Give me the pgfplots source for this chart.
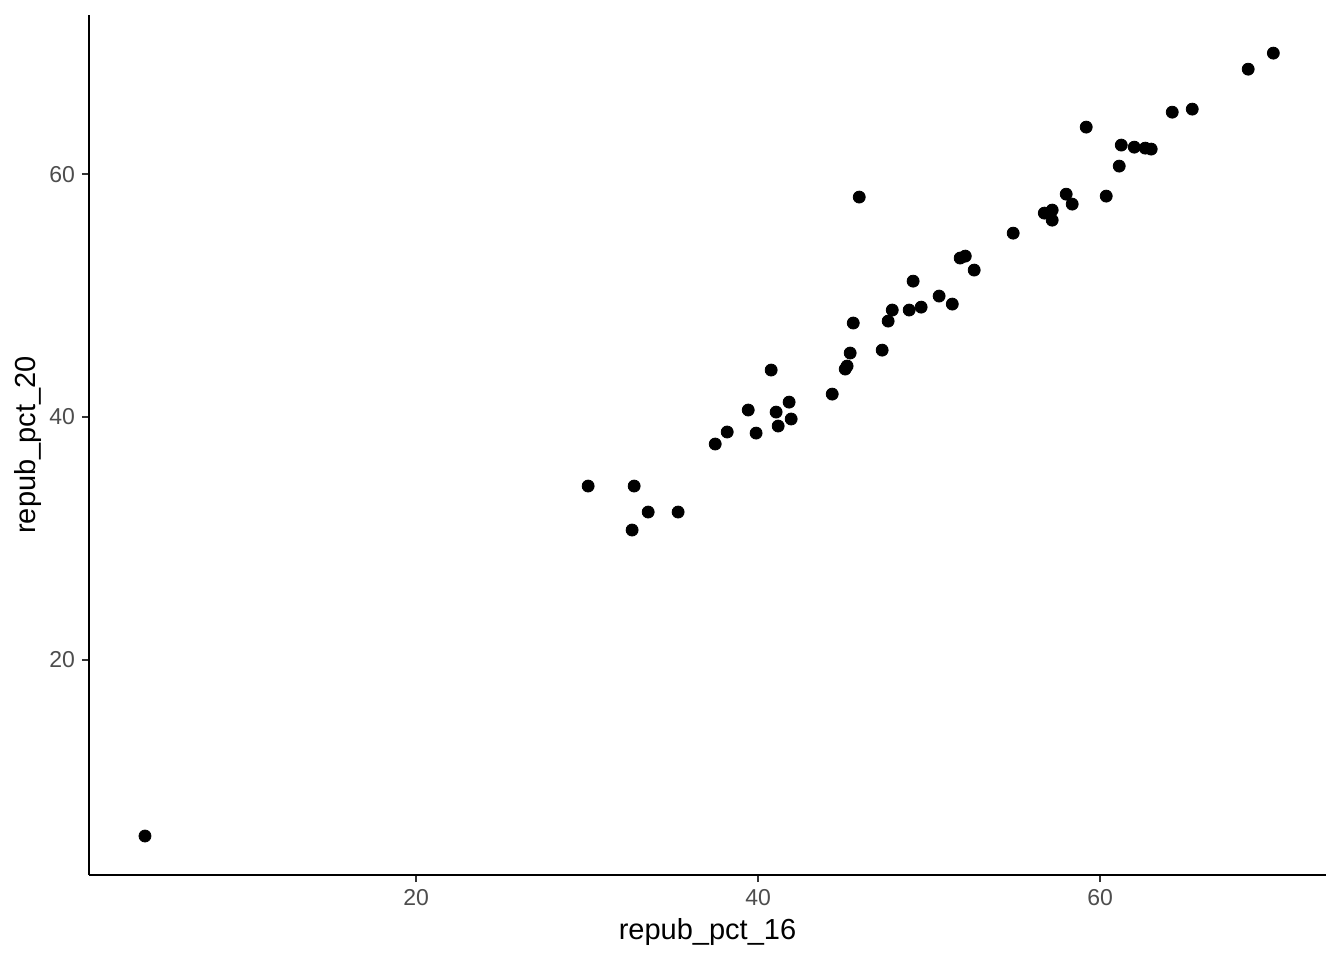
\documentclass[border=0pt]{standalone}
\usepackage{fontspec}
\setmainfont{Liberation Sans}
\usepackage{pgfplots}
\pgfplotsset{compat=1.18}
\definecolor{tickgray}{HTML}{4D4D4D}
\definecolor{axgray}{HTML}{333333}
\begin{document}
\begin{tikzpicture}
\begin{axis}[
  scale only axis,
  width=618.5pt, height=430pt,
  xmin=0.877, xmax=73.2,
  ymin=2.30, ymax=73.1,
  axis x line*=bottom, axis y line*=left,
  axis line style={black, line width=1pt, -},
  xtick={20,40,60}, ytick={20,40,60},
  tick align=outside,
  major tick length=3.5pt,
  tick style={axgray, line width=1pt},
  ticklabel style={font=\fontsize{11.5}{13}\selectfont, text=tickgray},
  /pgf/number format/assume math mode=true,
  xlabel={repub\_pct\_16}, ylabel={repub\_pct\_20},
  label style={font=\fontsize{14.5}{16}\selectfont},
  xlabel style={at={(axis description cs:0.5,0)}, anchor=center, yshift=-28.5pt},
  ylabel style={at={(axis description cs:0,0.5)}, anchor=center, yshift=30.5pt},
  clip=false,
]
\addplot[only marks, mark=*, mark size=3pt, black] coordinates {
(4.15,5.51)
(30.06,34.32)
(32.75,34.32)
(32.63,30.70)
(33.57,32.18)
(35.32,32.18)
(37.49,37.78)
(38.19,38.77)
(39.42,40.58)
(39.88,38.68)
(40.76,43.87)
(41.05,40.41)
(41.17,39.26)
(41.81,41.23)
(41.93,39.84)
(44.33,41.89)
(45.09,43.95)
(45.20,44.20)
(45.38,45.27)
(45.56,47.74)
(45.91,58.11)
(47.25,45.51)
(47.60,47.90)
(47.84,48.81)
(48.83,48.81)
(49.06,51.19)
(49.53,49.05)
(50.58,49.96)
(51.35,49.30)
(51.81,53.09)
(52.11,53.25)
(52.63,52.10)
(54.91,55.14)
(56.73,56.79)
(57.19,57.04)
(57.19,56.21)
(58.01,58.35)
(58.36,57.53)
(59.18,63.87)
(60.35,58.19)
(61.11,60.66)
(61.23,62.39)
(61.99,62.22)
(62.63,62.14)
(62.98,62.06)
(64.21,65.10)
(65.38,65.35)
(68.65,68.64)
(70.12,69.96)
};
\end{axis}
\path[use as bounding box] (current axis.south west) ++(-44.5pt,-42.5pt) rectangle ++(672pt,480pt);
\end{tikzpicture}
\end{document}
